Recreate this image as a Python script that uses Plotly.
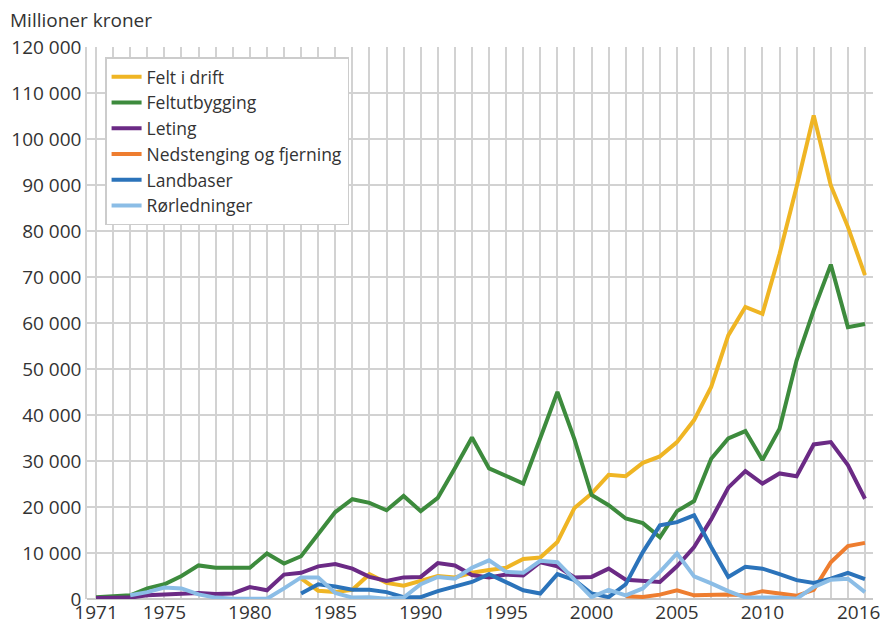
import plotly.graph_objects as go

years = list(range(1971, 2017))

felt_i_drift = [None]*12 + [4500, 1800, 1500, 2000, 5400, 3500, 2900, 3900, 5000, 4700, 5700, 6300, 6800, 8700, 9000, 12400,
                            19800, 22900, 27000, 26700, 29600, 31000, 34100, 38900, 46100, 57300, 63500, 62000, 75000, 89600,
                            105100, 89900, 80900, 70400]
feltutbygging = [400, 700, 800, 2300, 3200, 5000, 7300, 6800, 6900, 6800, 9900, 7700, 9300, 14200, 18900, 21700, 20900, 19300,
                 22400, 19100, 22000, 28400, 35100, 28400, 26700, 25100, 35000, 45000, 34700, 22600, 20400, 17500, 16500,
                 13400, 19100, 21300, 30500, 34900, 36500, 30200, 37000, 51900, 62800, 72700, 59100, 59800]
leting = [200, 200, 300, 800, 950, 1000, 1300, 1100, 1200, 2600, 1900, 5300, 5700, 7100, 7600, 6600, 4800, 3900, 4700, 4800,
          7800, 7300, 5200, 4700, 5300, 5100, 8000, 7100, 4700, 4800, 6600, 4200, 3900, 3700, 7100, 11300, 17300, 24200,
          27800, 25100, 27300, 26700, 33600, 34100, 29100, 21800]
nedstenging = [None]*31 + [600, 450, 950, 1900, 800, 1000, 1000, 800, 1700, 1200, 700, 2000, 8000, 11500, 12200]
landbaser = [None]*12 + [1200, 3200, 2700, 2000, 2000, 1500, 400, 400, 1700, 2800, 3700, 5400, 3700, 1900, 1200, 5400, 4100,
                         1200, 400, 3200, 10200, 16000, 16700, 18200, 11300, 4800, 7000, 6600, 5400, 4100, 3500, 4400, 5700, 4300]
rorledninger = [None, None, 800, 1500, 2500, 2300, 1000, 300, 50, 50, 50, 2300, 4700, 4700, 1300, 300, 400, 50, 300, 3200,
                4800, 4400, 6800, 8400, 5900, 5700, 8300, 8000, 4100, 400, 2000, 800, 2300, 5900, 9900, 4900, 3400, 1700,
                300, 300, 300, 50, 2600, 4200, 4400, 1500]

series_names = ["Felt i drift", "Feltutbygging", "Leting", "Nedstenging og fjerning", "Landbaser", "Rørledninger"]
series_values = [felt_i_drift, feltutbygging, leting, nedstenging, landbaser, rorledninger]
colors = ["#EFB524", "#3D8B3D", "#6B2A85", "#EE7D2F", "#2B73BA", "#8BBDE6"]

x_label_years = {1971: "1971", 1975: "1975", 1980: "1980", 1985: "1985", 1990: "1990", 1995: "1995",
                 2000: "2000", 2005: "2005", 2010: "2010", 2016: "2016<sup>1</sup>\u00a0"}
y_ticks = list(range(0, 120001, 10000))

fig = go.Figure()
for name, vals, col in zip(series_names, series_values, colors):
    fig.add_trace(go.Scatter(x=years, y=vals, name=name, mode="lines",
                             line=dict(color=col, width=4), connectgaps=False))

font = "Open Sans"
txt = "#333333"
fig.update_layout(
    width=880, height=617,
    margin=dict(l=79, r=15, t=39, b=26),
    plot_bgcolor="white", paper_bgcolor="white",
    font=dict(family=font, size=19, color=txt),
    separators=", ",
    showlegend=True,
    legend=dict(x=0.023, y=0.981, xanchor="left", yanchor="top",
                bgcolor="white", bordercolor="#cccccc", borderwidth=1.5,
                font=dict(size=17.5, color=txt), tracegroupgap=0,
                itemwidth=30),
    xaxis=dict(range=[1970.47, 2016.47], tickvals=years,
               ticktext=[x_label_years.get(y, "") for y in years],
               showgrid=True, gridcolor="#d2d2d2", gridwidth=1.5,
               ticks="", zeroline=False, showline=False, automargin=False,
               ticklabeloverflow="allow",
               tickfont=dict(size=19, color=txt)),
    yaxis=dict(range=[0, 120000], tickvals=y_ticks,
               ticktext=[f"{v:,}".replace(",", " ") for v in y_ticks],
               showgrid=True, gridcolor="#d2d2d2", gridwidth=1.5,
               showline=True, linecolor="#d2d2d2", linewidth=1.5,
               zeroline=True, zerolinecolor="#c8c8c8", zerolinewidth=2,
               ticks="", automargin=False, tickfont=dict(size=19, color=txt)),
    annotations=[dict(text="Millioner kroner", x=0, y=1, xref="paper", yref="paper",
                      xshift=-79, yshift=12, xanchor="left", yanchor="bottom", showarrow=False,
                      font=dict(size=19, color=txt))]
)

fig.write_html("out.html")
